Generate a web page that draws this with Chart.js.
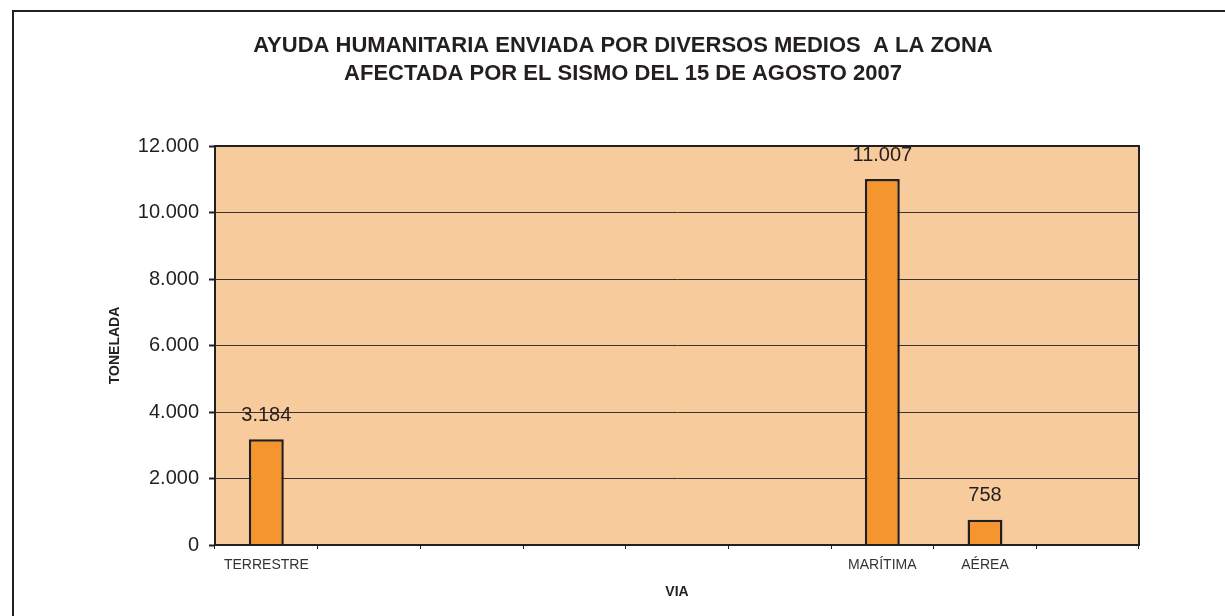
<!DOCTYPE html>
<html>
<head>
<meta charset="utf-8">
<script src="https://cdn.jsdelivr.net/npm/chart.js@4/dist/chart.umd.min.js"></script>
<style>
html,body{margin:0;padding:0;background:#fff;}
#wrap{position:relative;width:1225px;height:616px;}
</style>
</head>
<body>
<div id="wrap"><canvas id="c" width="1225" height="616"></canvas></div>
<script>
const categories = ['TERRESTRE', '', '', '', '', '', 'MARÍTIMA', 'AÉREA', ''];
const toneladas = [3184, null, null, null, null, null, 11007, 758, null];
const yTicks = [0, 2000, 4000, 6000, 8000, 10000, 12000];
const titleLines = ['AYUDA HUMANITARIA ENVIADA POR DIVERSOS MEDIOS  A LA ZONA', 'AFECTADA POR EL SISMO DEL 15 DE AGOSTO 2007'];

const DARK = '#231F20';
const FAM = '"Liberation Sans", Arial, sans-serif';
const fmt = v => String(v).replace(/\B(?=(\d{3})+(?!\d))/g, '.');

const framePlugin = {
  id: 'frame',
  beforeDraw(chart) {
    const ctx = chart.ctx, a = chart.chartArea;
    ctx.save();
    ctx.fillStyle = '#fff';
    ctx.fillRect(0, 0, chart.width, chart.height);
    ctx.fillStyle = '#F7CB9C';
    ctx.fillRect(a.left, a.top, a.right - a.left, a.bottom - a.top);
    ctx.strokeStyle = DARK;
    ctx.lineWidth = 2;
    ctx.beginPath();
    ctx.moveTo(13, chart.height + 5);
    ctx.lineTo(13, 11);
    ctx.lineTo(chart.width + 5, 11);
    ctx.stroke();
    ctx.restore();
  },
  afterDatasetsDraw(chart) {
    const ctx = chart.ctx, a = chart.chartArea;
    ctx.save();
    ctx.strokeStyle = DARK;
    ctx.lineWidth = 2;
    ctx.strokeRect(a.left, a.top, a.right - a.left, a.bottom - a.top);
    const meta = chart.getDatasetMeta(0);
    ctx.fillStyle = DARK;
    ctx.font = '20px ' + FAM;
    ctx.textAlign = 'center';
    ctx.textBaseline = 'middle';
    meta.data.forEach((el, i) => {
      const v = toneladas[i];
      if (v === null || v === undefined) return;
      ctx.fillText(fmt(v), el.x, el.y - 24);
    });
    ctx.restore();
  }
};

new Chart(document.getElementById('c'), {
  type: 'bar',
  data: {
    labels: categories,
    datasets: [{
      data: toneladas,
      backgroundColor: '#F5952D',
      borderColor: DARK,
      borderWidth: 2.5,
      categoryPercentage: 1,
      barPercentage: 0.34
    }]
  },
  options: {
    responsive: false,
    animation: false,
    devicePixelRatio: 1,
    layout: { padding: { left: 107, right: 86, top: 10, bottom: 15 } },
    plugins: {
      legend: { display: false },
      tooltip: { enabled: false },
      title: {
        display: true,
        text: titleLines,
        color: DARK,
        font: { family: FAM, size: 22, weight: 'bold', lineHeight: 28 / 22 },
        padding: { top: 22, bottom: 58 }
      }
    },
    scales: {
      x: {
        grid: { offset: true, drawOnChartArea: false, drawTicks: true, tickLength: 4, color: DARK, lineWidth: 1 },
        border: { display: true, color: DARK, width: 2 },
        ticks: { color: '#333', font: { family: FAM, size: 14 }, padding: 8, maxRotation: 0, autoSkip: false },
        title: { display: true, text: 'VIA', color: DARK, font: { family: FAM, size: 14, weight: 'bold' }, padding: 0 },
        afterFit(scale) { scale.height = 56; }
      },
      y: {
        min: 0, max: 12000,
        afterBuildTicks(scale) { scale.ticks = yTicks.map(v => ({ value: v })); },
        grid: { color: '#3a3330', lineWidth: 1, drawTicks: true, tickLength: 6, tickColor: DARK, tickWidth: 2 },
        border: { display: true, color: DARK, width: 2 },
        ticks: { color: DARK, font: { family: FAM, size: 20 }, padding: 10, callback: v => fmt(v) },
        title: { display: true, text: 'TONELADA', color: DARK, font: { family: FAM, size: 14, weight: 'bold' }, padding: 0 },
        afterFit(scale) { scale.width = 108; }
      }
    }
  },
  plugins: [framePlugin]
});
</script>
</body>
</html>
